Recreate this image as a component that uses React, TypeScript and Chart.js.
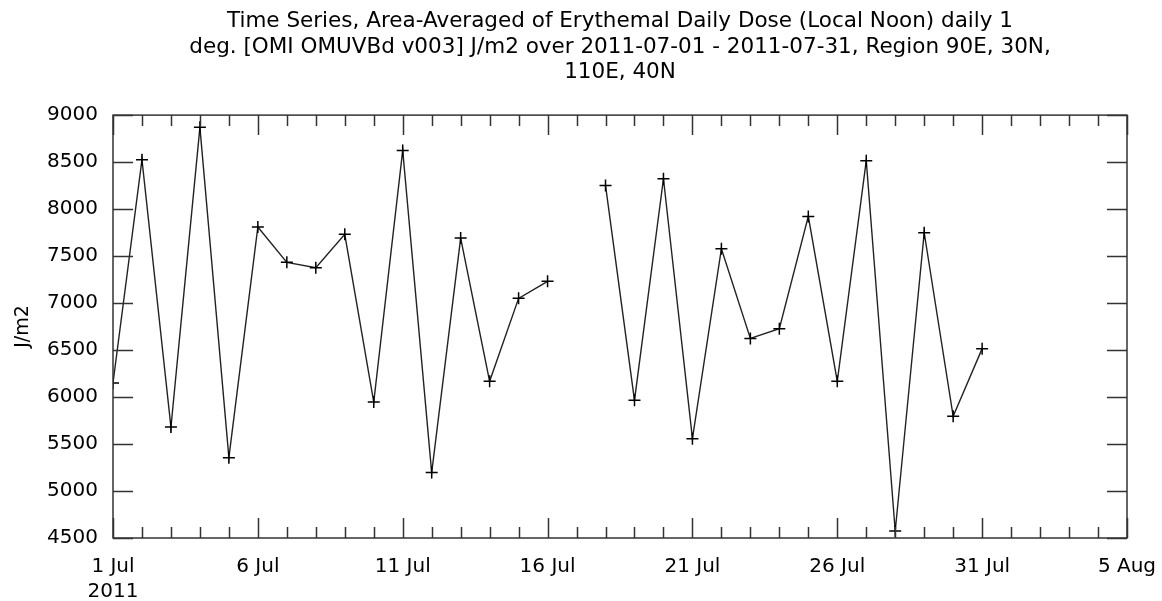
import React, { useEffect, useRef } from "react";
import { Chart, registerables } from "chart.js";

Chart.register(...registerables);

const titleLines = [
  "Time Series, Area-Averaged of Erythemal Daily Dose (Local Noon) daily 1",
  "deg. [OMI OMUVBd v003] J/m2 over 2011-07-01 - 2011-07-31, Region 90E, 30N,",
  "110E, 40N",
];
const yAxisTitle = "J/m2";
const monthNames = ["Jan", "Feb", "Mar", "Apr", "May", "Jun", "Jul", "Aug", "Sep", "Oct", "Nov", "Dec"];
// day offsets from 2011-07-01
const days = [0, 1, 2, 3, 4, 5, 6, 7, 8, 9, 10, 11, 12, 13, 14, 15, 16, 17, 18, 19, 20, 21, 22, 23, 24, 25, 26, 27, 28, 29, 30];
const doseValues: (number | null)[] = [
  6150, 8525, 5680, 8870, 5355, 7810, 7433, 7377, 7731, 5947, 8624, 5196, 7691, 6167, 7050, 7231,
  null, 8252, 5965, 8323, 5557, 7578, 6624, 6727, 7922, 6167, 8515, 4574, 7749, 5795, 6515,
];
const xMin = 0;
const xMax = 35;
const yMin = 4500;
const yMax = 9000;
const yStep = 500;

const FONT = "'DejaVu Sans', sans-serif";

const framePlugin = {
  id: "frameTicks",
  afterDraw(chart: any) {
    const { ctx, chartArea } = chart;
    const xs = chart.scales.x;
    const ys = chart.scales.y;
    ctx.save();
    ctx.strokeStyle = "#333";
    ctx.lineWidth = 1.5;
    ctx.strokeRect(chartArea.left, chartArea.top, chartArea.right - chartArea.left, chartArea.bottom - chartArea.top);
    ctx.beginPath();
    for (let d = xMin; d <= xMax; d++) {
      const px = Math.round(xs.getPixelForValue(d)) + 0.5;
      const len = d % 5 === 0 ? 20 : 11;
      ctx.moveTo(px, chartArea.bottom);
      ctx.lineTo(px, chartArea.bottom - len);
      ctx.moveTo(px, chartArea.top);
      ctx.lineTo(px, chartArea.top + len);
    }
    for (let v = yMin; v <= yMax; v += yStep) {
      const py = Math.round(ys.getPixelForValue(v)) + 0.5;
      ctx.moveTo(chartArea.left, py);
      ctx.lineTo(chartArea.left + 20, py);
      ctx.moveTo(chartArea.right, py);
      ctx.lineTo(chartArea.right - 20, py);
    }
    ctx.stroke();
    ctx.restore();
  },
};

export default function App() {
  const canvasRef = useRef<HTMLCanvasElement>(null);
  useEffect(() => {
    document.body.style.margin = "0";
    const canvas = canvasRef.current!;
    const chart = new Chart(canvas, {
      type: "line",
      data: {
        datasets: [
          {
            data: days.map((d, i) => ({ x: d, y: doseValues[i] as any })),
            borderColor: "#222",
            borderWidth: 1.4,
            pointStyle: "cross",
            pointRadius: 6,
            pointBorderWidth: 1.5,
            pointBorderColor: "#000",
            spanGaps: false,
            tension: 0,
            fill: false,
          },
        ],
      },
      options: {
        responsive: false,
        animation: false,
        layout: { padding: { left: 0, right: 35, top: 0, bottom: 0 } },
        plugins: {
          legend: { display: false },
          tooltip: { enabled: false },
          title: {
            display: true,
            fullSize: false,
            text: titleLines,
            color: "#000",
            font: { family: FONT, size: 21.5, weight: "normal", lineHeight: 1.18 },
            padding: { top: 9, bottom: 30 },
          },
        },
        scales: {
          x: {
            type: "linear",
            min: xMin,
            max: xMax,
            grid: { display: false, drawTicks: false, tickLength: 0 },
            border: { display: false },
            afterFit: (s: any) => {
              s.height = 63;
              s.paddingLeft = 0;
              s.paddingRight = 0;
            },
            afterBuildTicks: (s: any) => {
              const t = [];
              for (let d = xMin; d <= xMax; d += 5) t.push({ value: d });
              s.ticks = t;
            },
            ticks: {
              autoSkip: false,
              maxRotation: 0,
              padding: 16,
              color: "#000",
              font: { family: FONT, size: 20, lineHeight: 1.25 },
              callback: (v: any) => {
                const dt = new Date(2011, 6, 1 + Number(v));
                const lab = `${dt.getDate()} ${monthNames[dt.getMonth()]}`;
                return Number(v) === 0 ? [lab, String(dt.getFullYear())] : lab;
              },
            },
          },
          y: {
            min: yMin,
            max: yMax,
            grid: { display: false, drawTicks: false, tickLength: 0 },
            border: { display: false },
            afterFit: (s: any) => {
              s.width = 113;
            },
            ticks: {
              stepSize: yStep,
              padding: 15,
              color: "#000",
              font: { family: FONT, size: 20 },
              callback: (v: any) => String(v),
            },
            title: {
              display: true,
              text: yAxisTitle,
              color: "#000",
              font: { family: FONT, size: 19 },
              padding: { top: 12, bottom: 0 },
            },
          },
        },
      },
      plugins: [framePlugin],
    });
    return () => chart.destroy();
  }, []);
  return (
    <div style={{ width: 1162, height: 601, background: "#fff" }}>
      <canvas ref={canvasRef} width={1162} height={601} />
    </div>
  );
}
